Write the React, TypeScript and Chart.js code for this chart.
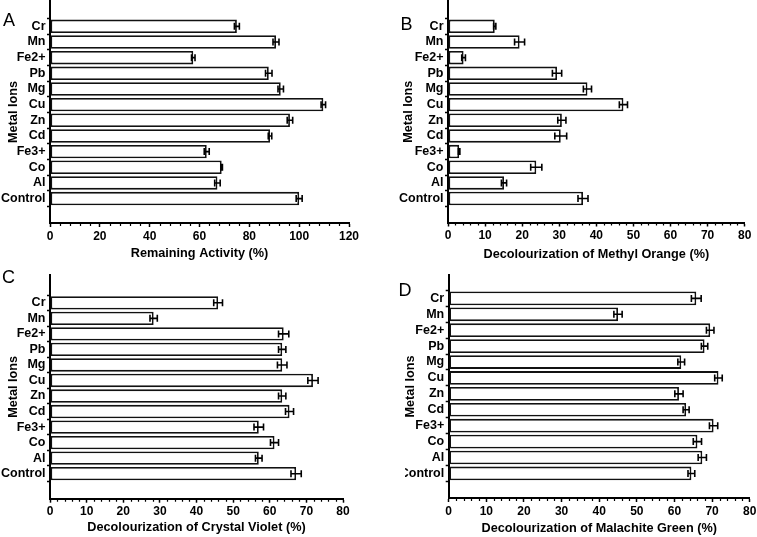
import React, { useEffect, useRef } from "react";
import { Chart, registerables } from "chart.js";

Chart.register(...registerables);

// ---------------- data ----------------
const ions = ["Cr", "Mn", "Fe2+", "Pb", "Mg", "Cu", "Zn", "Cd", "Fe3+", "Co", "Al", "Control"];

const remainingActivity = [75, 90.7, 57.5, 87.8, 92.6, 109.7, 96.3, 88.3, 62.9, 68.9, 67.2, 100];
const remainingActivityErr = [1.0, 1.2, 0.7, 1.3, 1.1, 0.9, 1.1, 0.7, 1.0, 0.3, 1.1, 1.2];

const methylOrange = [12.6, 19.3, 4.2, 29.4, 37.6, 47.3, 30.7, 30.4, 3.0, 23.8, 15.1, 36.4];
const methylOrangeErr = [0.3, 1.35, 0.5, 1.25, 1.1, 1.1, 1.1, 1.6, 0.2, 1.5, 0.7, 1.35];

const crystalViolet = [45.9, 28.3, 63.8, 63.4, 63.4, 71.8, 63.4, 65.4, 57.0, 61.3, 57.0, 67.2];
const crystalVioletErr = [1.2, 1.0, 1.4, 1.0, 1.3, 1.4, 1.0, 1.1, 1.3, 1.1, 0.9, 1.4];

const malachiteGreen = [65.8, 45.0, 69.5, 68.0, 61.8, 71.7, 61.2, 63.1, 70.4, 66.1, 67.4, 64.5];
const malachiteGreenErr = [1.3, 1.1, 1.0, 0.85, 0.9, 1.0, 1.1, 0.8, 1.1, 1.1, 1.1, 0.9];

const axisTitleY = "Metal Ions";
const axisTitlesX = [
  "Remaining Activity (%)",
  "Decolourization of Methyl Orange (%)",
  "Decolourization of Crystal Violet (%)",
  "Decolourization of Malachite Green (%)",
];
const panelLetters = ["A", "B", "C", "D"];
const xMaxes = [120, 80, 80, 80];
const xMajorSteps = [20, 10, 10, 10];
const xMinorSteps = [4, 2, 2, 2];

// ---------------- styling ----------------
const FONT = "'Liberation Sans', Arial, Helvetica, sans-serif";
const LABEL_SIZE = 12.5;
const TICK_SIZE = 12;
const TITLE_SIZE = 12.7;

type Panel = {
  left: number; top: number; width: number; height: number;
  areaLeft: number; areaRight: number; areaTop: number; areaBottom: number;
  yMin: number; yMax: number; yTitleX: number; xTitleY: number;
  letterLeft: number; letterTop: number;
  values: number[]; errors: number[];
  idx: number;
};

const panels: Panel[] = [
  { idx: 0, left: 0, top: 0, width: 378, height: 270, areaLeft: 50, areaRight: 349, areaTop: 1, areaBottom: 223,
    yMin: -1.027, yMax: 11.968, yTitleX: 13, xTitleY: 253, letterLeft: 3, letterTop: 10.7,
    values: remainingActivity, errors: remainingActivityErr },
  { idx: 1, left: 378, top: 0, width: 379, height: 270, areaLeft: 70, areaRight: 366.7, areaTop: 1, areaBottom: 222.5,
    yMin: -1.03, yMax: 11.94, yTitleX: 30, xTitleY: 254, letterLeft: 400.5, letterTop: 14.7,
    values: methylOrange, errors: methylOrangeErr },
  { idx: 2, left: 0, top: 270, width: 378, height: 267, areaLeft: 50, areaRight: 343, areaTop: 5, areaBottom: 228.7,
    yMin: -1.19, yMax: 12.01, yTitleX: 13, xTitleY: 257.7, letterLeft: 2, letterTop: 267.7,
    values: crystalViolet, errors: crystalVioletErr },
  { idx: 3, left: 405, top: 270, width: 352, height: 267, areaLeft: 43.7, areaRight: 344.7, areaTop: 5, areaBottom: 228,
    yMin: -0.886, yMax: 11.96, yTitleX: 5, xTitleY: 258, letterLeft: 398.5, letterTop: 280.7,
    values: malachiteGreen, errors: malachiteGreenErr },
];

function PanelChart({ p }: { p: Panel }) {
  const ref = useRef<HTMLCanvasElement | null>(null);
  useEffect(() => {
    if (!ref.current) return;
    Chart.defaults.font.family = FONT;
    const xMax = xMaxes[p.idx];
    const major = xMajorSteps[p.idx];
    const minor = xMinorSteps[p.idx];

    const errorBars = {
      id: "errorBars" + p.idx,
      afterDatasetsDraw(chart: any) {
        const ctx = chart.ctx;
        const xs = chart.scales.x;
        chart.data.datasets.forEach((ds: any, di: number) => {
          const meta = chart.getDatasetMeta(di);
          meta.data.forEach((bar: any, i: number) => {
            const v = ds.data[i].x;
            const e = ds.errors[i];
            const x1 = xs.getPixelForValue(v - e);
            const x2 = xs.getPixelForValue(v + e);
            const y = bar.y;
            ctx.save();
            ctx.strokeStyle = "#000";
            ctx.lineWidth = 1.6;
            ctx.beginPath();
            ctx.moveTo(x1, y); ctx.lineTo(x2, y);
            ctx.moveTo(x1, y - 3.5); ctx.lineTo(x1, y + 3.5);
            ctx.moveTo(x2, y - 3.5); ctx.lineTo(x2, y + 3.5);
            ctx.stroke();
            ctx.restore();
          });
        });
      },
    };

    const minorTicks = {
      id: "minorTicks" + p.idx,
      afterDraw(chart: any) {
        const ctx = chart.ctx;
        const xs = chart.scales.x;
        const bottom = chart.chartArea.bottom;
        ctx.save();
        ctx.strokeStyle = "#000";
        ctx.lineWidth = 1.2;
        ctx.beginPath();
        for (let v = 0; v <= xMax + 1e-9; v += minor) {
          if (Math.abs(v / major - Math.round(v / major)) < 1e-6) continue;
          const x = Math.round(xs.getPixelForValue(v)) + 0.5;
          ctx.moveTo(x, bottom);
          ctx.lineTo(x, bottom + 3);
        }
        ctx.stroke();
        ctx.restore();
      },
    };

    const chart = new Chart(ref.current, {
      type: "bar",
      data: {
        datasets: [
          {
            data: p.values.map((v, i) => ({ x: v, y: i })),
            errors: p.errors,
            backgroundColor: "#ffffff",
            borderColor: "#111111",
            borderWidth: 1.8,
            borderSkipped: false,
            barPercentage: 0.86,
            categoryPercentage: 1,
          } as any,
        ],
      },
      options: {
        indexAxis: "y",
        responsive: false,
        animation: false,
        events: [],
        layout: { padding: { left: 0, top: p.areaTop, right: p.width - p.areaRight, bottom: 0 } },
        plugins: { legend: { display: false }, tooltip: { enabled: false } },
        scales: {
          x: {
            type: "linear",
            position: "bottom",
            min: 0,
            max: xMax,
            bounds: "data",
            afterBuildTicks: (s: any) => {
              const t = [];
              for (let v = 0; v <= xMax + 1e-9; v += major) t.push({ value: v });
              s.ticks = t;
            },
            afterFit: (s: any) => {
              s.height = p.height - p.areaBottom;
              s.paddingLeft = 0;
              s.paddingRight = 0;
            },
            grid: { display: true, drawOnChartArea: false, drawTicks: true, tickLength: 4, tickWidth: 1.5, tickColor: "#000" },
            border: { display: true, color: "#000", width: 2 },
            ticks: { color: "#000", font: { size: TICK_SIZE, weight: "bold" }, padding: 2, maxRotation: 0, autoSkip: false },
            title: {
              display: true,
              text: axisTitlesX[p.idx],
              color: "#000",
              font: { size: TITLE_SIZE, weight: "bold" },
              padding: { top: 0, bottom: p.height - p.xTitleY - TITLE_SIZE * 0.6 },
            },
          },
          y: {
            type: "linear",
            reverse: true,
            min: p.yMin,
            max: p.yMax,
            bounds: "data",
            afterBuildTicks: (s: any) => {
              s.ticks = ions.map((_, i) => ({ value: i }));
            },
            afterFit: (s: any) => {
              s.width = p.areaLeft;
              s.paddingTop = 0;
              s.paddingBottom = 0;
            },
            grid: { display: true, offset: true, drawOnChartArea: false, drawTicks: true, tickLength: 3, tickWidth: 1.5, tickColor: "#000" },
            border: { display: true, color: "#000", width: 2 },
            ticks: {
              color: "#000",
              font: { size: LABEL_SIZE, weight: "bold" },
              padding: 1.5,
              autoSkip: false,
              callback: (v: any) => ions[v as number] ?? "",
            },
            title: {
              display: true,
              text: axisTitleY,
              color: "#000",
              font: { size: TITLE_SIZE, weight: "bold" },
              padding: { top: p.yTitleX - TITLE_SIZE * 0.6, bottom: 0 },
            },
          },
        },
      } as any,
      plugins: [errorBars, minorTicks],
    });
    return () => chart.destroy();
  }, [p]);

  return (
    <canvas
      ref={ref}
      width={p.width}
      height={p.height}
      style={{ position: "absolute", left: p.left, top: p.top, width: p.width, height: p.height }}
    />
  );
}

export default function App() {
  return (
    <div
      style={{
        position: "fixed",
        left: 0,
        top: 0,
        width: 757,
        height: 537,
        background: "#ffffff",
        overflow: "hidden",
        fontFamily: FONT,
      }}
    >
      {panels.map((p) => (
        <PanelChart key={p.idx} p={p} />
      ))}
      {panels.map((p) => (
        <div
          key={"l" + p.idx}
          style={{
            position: "absolute",
            left: p.letterLeft,
            top: p.letterTop,
            fontSize: 18,
            lineHeight: "18px",
            color: "#000",
            fontFamily: FONT,
          }}
        >
          {panelLetters[p.idx]}
        </div>
      ))}
    </div>
  );
}
